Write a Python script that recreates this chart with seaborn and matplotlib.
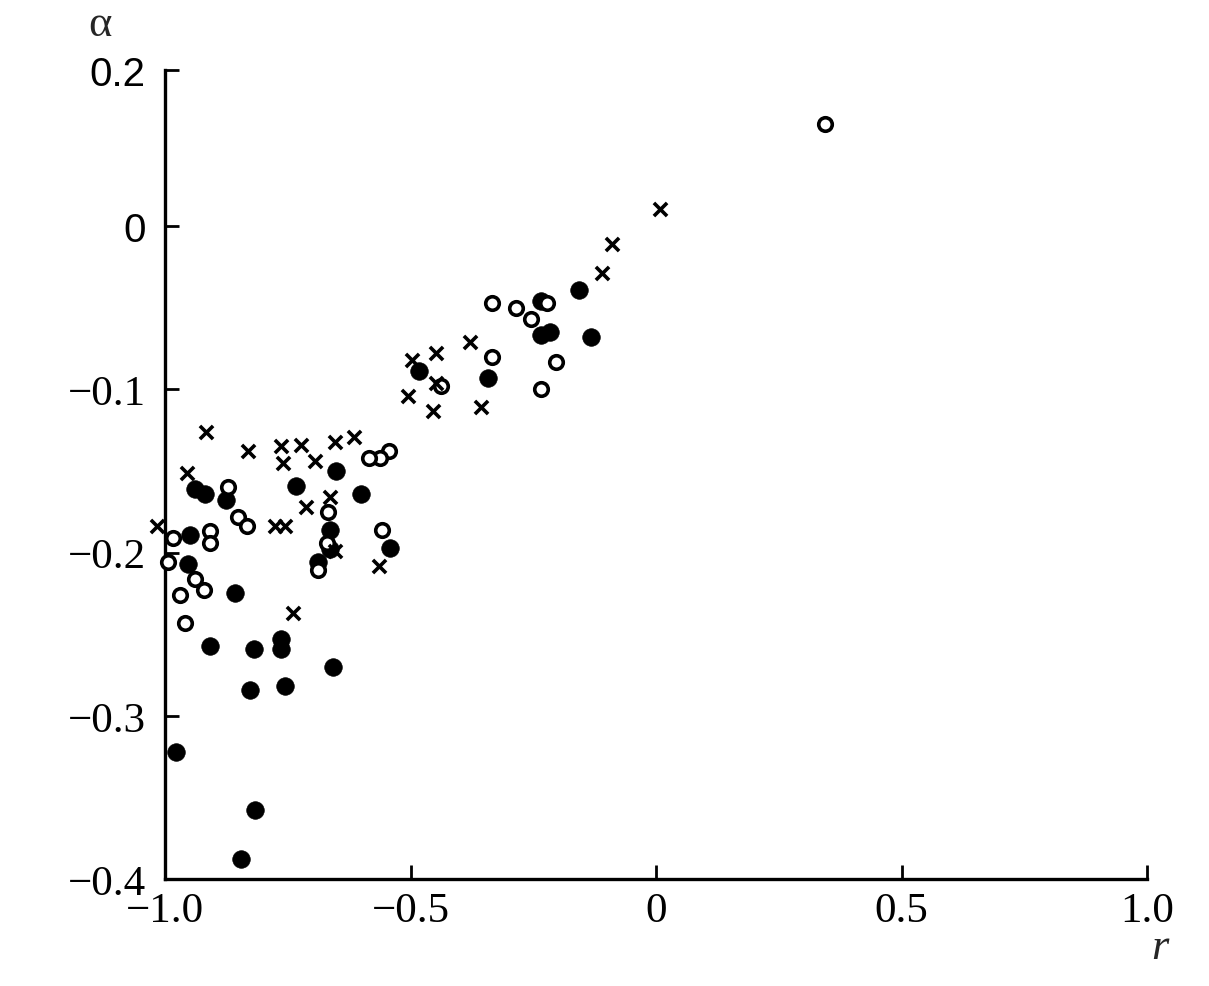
import numpy as np
import pandas as pd
import seaborn as sns
import matplotlib.pyplot as plt

# filled circles
filled_r = [-0.157, -0.216, -0.235, -0.133, -0.235, -0.482, -0.343, -0.651, -0.600, -0.733,
            -0.541, -0.939, -0.918, -0.876, -0.949, -0.953, -0.663, -0.663, -0.688, -0.857,
            -0.908, -0.818, -0.763, -0.763, -0.657, -0.827, -0.755, -0.978, -0.816, -0.845]
filled_a = [-0.039, -0.065, -0.067, -0.068, -0.046, -0.089, -0.093, -0.150, -0.164, -0.159,
            -0.197, -0.161, -0.164, -0.168, -0.189, -0.207, -0.186, -0.198, -0.206, -0.225,
            -0.257, -0.259, -0.253, -0.259, -0.270, -0.284, -0.282, -0.322, -0.358, -0.388]

# open circles
open_r = [0.345, -0.335, -0.286, -0.255, -0.222, -0.204, -0.235, -0.335, -0.437, -0.543,
          -0.563, -0.584, -0.669, -0.671, -0.688, -0.559, -0.871, -0.851, -0.833, -0.984,
          -0.908, -0.908, -0.994, -0.939, -0.920, -0.969, -0.959]
open_a = [0.131, -0.047, -0.050, -0.057, -0.047, -0.083, -0.100, -0.080, -0.098, -0.138,
          -0.142, -0.142, -0.175, -0.194, -0.211, -0.186, -0.160, -0.178, -0.184, -0.191,
          -0.187, -0.194, -0.206, -0.216, -0.223, -0.226, -0.243]

# crosses
cross_r = [0.008, -0.090, -0.110, -0.378, -0.449, -0.496, -0.449, -0.506, -0.455, -0.357,
           -0.916, -0.831, -0.763, -0.759, -0.724, -0.694, -0.653, -0.616, -0.955, -1.016,
           -0.776, -0.755, -0.663, -0.712, -0.653, -0.565, -0.739]
cross_a = [0.022, -0.011, -0.029, -0.071, -0.078, -0.082, -0.096, -0.104, -0.113, -0.111,
           -0.126, -0.138, -0.135, -0.145, -0.134, -0.144, -0.132, -0.129, -0.151, -0.184,
           -0.184, -0.184, -0.166, -0.172, -0.199, -0.208, -0.237]

x_ticks = [-1.0, -0.5, 0, 0.5, 1.0]
x_labels = ['\u22121.0', '\u22120.5', '0', '0.5', '1.0']
y_ticks = [0.2, 0, -0.1, -0.2, -0.3, -0.4]
y_labels = ['0.2', '0', '\u22120.1', '\u22120.2', '\u22120.3', '\u22120.4']

sns.set_style("white")
plt.rcParams['font.family'] = ['Liberation Serif', 'DejaVu Serif']

# the original compresses the part above zero
k = 0.478
def fwd(y):
    y = np.asarray(y, dtype=float)
    return np.where(y > 0, y * k, y)

def inv(t):
    t = np.asarray(t, dtype=float)
    return np.where(t > 0, t / k, t)

fig = plt.figure(figsize=(12.09, 9.87), dpi=100)
ax = fig.add_axes([165 / 1209, 1 - 880 / 987, (1147 - 165) / 1209, (880 - 71) / 987])

sns.scatterplot(x=filled_r, y=filled_a, ax=ax, marker='o', s=160, color='black',
                edgecolor='black', linewidth=0.5, clip_on=False, zorder=3)
sns.scatterplot(x=open_r, y=open_a, ax=ax, marker='o', s=95, facecolor='white',
                edgecolor='black', linewidth=2.6, clip_on=False, zorder=3)
sns.scatterplot(x=cross_r, y=cross_a, ax=ax, marker='x', s=90, color='black',
                linewidth=2.6, clip_on=False, zorder=3)

ax.set_yscale('function', functions=(fwd, inv))
ax.set_xlim(-1.0, 1.0)
ax.set_ylim(-0.4, 0.2)

ax.set_xticks(x_ticks)
ax.set_xticklabels(x_labels)
ax.set_yticks(y_ticks)
ax.set_yticklabels(y_labels)
ax.minorticks_off()

ax.tick_params(axis='both', direction='in', length=10, width=2.0, color='black',
               labelsize=31, labelcolor='black', bottom=True, left=True)
ax.tick_params(axis='x', pad=9)
ax.tick_params(axis='y', pad=14)
for lab in ax.get_yticklabels():
    if lab.get_text() in ('0.2', '0'):
        lab.set_family('Liberation Sans')
        lab.set_fontsize(29)

for side in ['top', 'right']:
    ax.spines[side].set_visible(False)
for side in ['left', 'bottom']:
    ax.spines[side].set_linewidth(2.4)
    ax.spines[side].set_color('black')
ax.set_facecolor('white')

fig.text(100 / 1209, 1 - 25 / 987, '\u03b1', fontsize=32, ha='center', va='center')
fig.text(1160 / 1209, 1 - 948 / 987, 'r', fontsize=32, style='italic', ha='center', va='center')

fig.savefig('out.png', dpi=100, facecolor='white')
